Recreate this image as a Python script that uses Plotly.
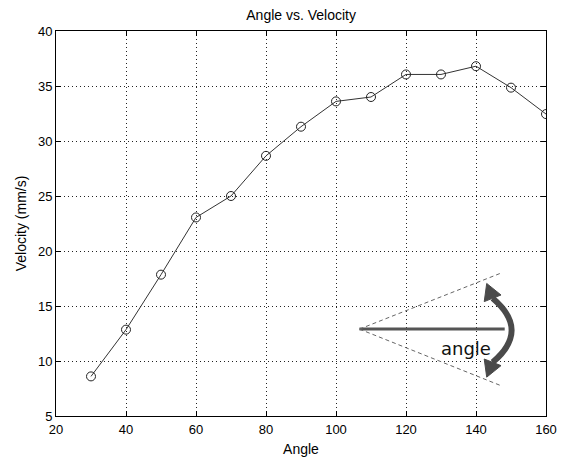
import plotly.graph_objects as go

# Data
angles = [30, 40, 50, 60, 70, 80, 90, 100, 110, 120, 130, 140, 150, 160]
velocity = [8.6, 12.85, 17.85, 23.05, 25.0, 28.65, 31.3, 33.6, 34.0, 36.05, 36.05, 36.8, 34.85, 32.45]

x_ticks = [20, 40, 60, 80, 100, 120, 140, 160]
y_ticks = [5, 10, 15, 20, 25, 30, 35, 40]

FONT = "Liberation Sans, Arial, sans-serif"

fig = go.Figure()
fig.add_trace(go.Scatter(
    x=angles, y=velocity, mode="lines+markers",
    line=dict(color="#333333", width=1),
    marker=dict(symbol="circle-open", size=9, color="#222222", line=dict(width=1)),
    showlegend=False, hoverinfo="skip",
))

# Inset diagram (in data units)
shapes = [
    dict(type="line", xref="x", yref="y", x0=106.7, y0=12.9, x1=148.2, y1=12.9,
         line=dict(color="#555555", width=3)),
    dict(type="line", xref="x", yref="y", x0=106.7, y0=12.9, x1=146.8, y1=17.95,
         line=dict(color="#666666", width=1, dash="4px,3px")),
    dict(type="line", xref="x", yref="y", x0=106.7, y0=12.9, x1=146.8, y1=7.8,
         line=dict(color="#666666", width=1, dash="4px,3px")),
    dict(type="path", xref="x", yref="y",
         path="M 144.75,15.7 Q 155.6,12.79 144.75,9.88",
         line=dict(color="#4a4a4a", width=6)),
    dict(type="path", xref="x", yref="y",
         path="M 143.06,17.05 L 147.15,16.0 L 142.35,15.4 Z",
         fillcolor="#4a4a4a", line=dict(color="#4a4a4a", width=1)),
    dict(type="path", xref="x", yref="y",
         path="M 143.06,8.53 L 147.15,9.58 L 142.35,10.18 Z",
         fillcolor="#4a4a4a", line=dict(color="#4a4a4a", width=1)),
]

annotations = [
    dict(x=137.0, y=11.15, xref="x", yref="y", text="angle", showarrow=False,
         font=dict(family="DejaVu Sans", size=18, color="#111111")),
]

axis_common = dict(
    showline=True, linecolor="#000000", linewidth=1, mirror="allticks",
    ticks="inside", ticklen=5, tickcolor="#000000", tickwidth=1,
    showgrid=True, gridcolor="#222222", gridwidth=1, griddash="1px,3px",
    zeroline=False, automargin=False,
    tickfont=dict(family=FONT, size=13, color="#000000"),
)

fig.update_layout(
    width=565, height=457,
    margin=dict(l=56, r=19, t=31, b=41),
    paper_bgcolor="white", plot_bgcolor="white",
    title=dict(text="Angle vs. Velocity", x=0.533, xanchor="center", y=0.967, yanchor="middle",
               font=dict(family=FONT, size=14, color="#000000")),
    xaxis=dict(range=[20, 160], tickvals=x_ticks, ticktext=[str(v) for v in x_ticks],
               ticklabelstandoff=1,
               title=dict(text="Angle", font=dict(family=FONT, size=14, color="#000000"), standoff=8),
               **axis_common),
    yaxis=dict(range=[5, 40], tickvals=y_ticks, ticktext=[str(v) for v in y_ticks],
               title=dict(text="Velocity (mm/s)", font=dict(family=FONT, size=14, color="#000000"), standoff=8),
               **axis_common),
    shapes=shapes, annotations=annotations,
)

fig.write_html("out.html")
